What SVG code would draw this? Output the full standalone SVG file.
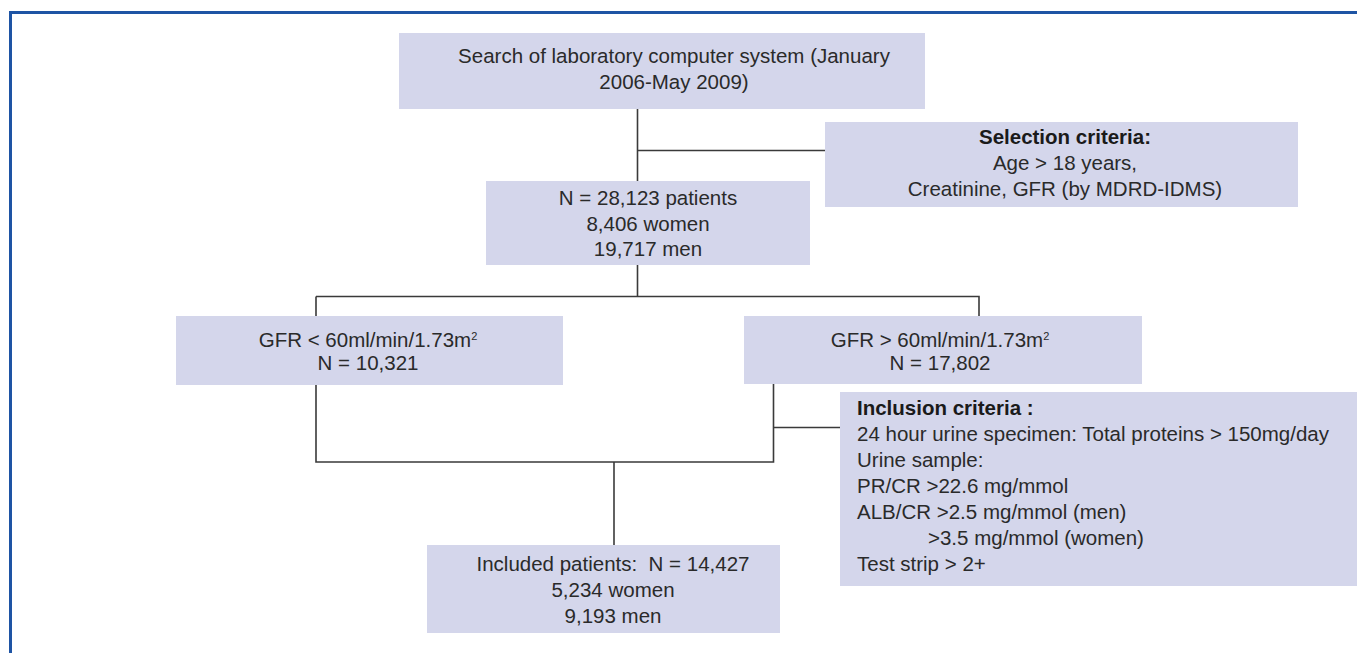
<svg xmlns="http://www.w3.org/2000/svg" width="1357" height="653" viewBox="0 0 1357 653">
<style>
.box{fill:#d4d6eb;}
.t{font-family:"Liberation Sans",Arial,sans-serif;font-size:20.5px;fill:#2a2a2a;}
.c{text-anchor:middle;}
.b{font-weight:bold;fill:#1a1a1a;}
.sup{font-size:11px;}
.ln{stroke:#3a3a3a;stroke-width:1.6;fill:none;}
.frame{stroke:#1e54a4;stroke-width:3;fill:none;}
</style>
<rect x="0" y="0" width="1357" height="653" fill="#ffffff"/>
<path class="frame" d="M10.5,653 V12.5 H1357"/>
<g id="connectors">
<path class="ln" d="M637.5,109 V181"/>
<path class="ln" d="M637.5,150.5 H825"/>
<path class="ln" d="M637.5,265 V296.5"/>
<path class="ln" d="M316,296.5 H979 V316"/>
<path class="ln" d="M316,296.5 V462 H773.5 V384"/>
<path class="ln" d="M773.5,427.5 H840"/>
<path class="ln" d="M614,462 V545"/>
</g>
<g id="node-search">
<rect class="box" x="399" y="33" width="526" height="76"/>
<text class="t c" x="674" y="63">Search of laboratory computer system (January</text>
<text class="t c" x="674" y="89">2006-May 2009)</text>
</g>
<g id="node-selection">
<rect class="box" x="825" y="122" width="473" height="85"/>
<text class="t c b" x="1065" y="144">Selection criteria:</text>
<text class="t c" x="1065" y="170">Age &gt; 18 years,</text>
<text class="t c" x="1065" y="196">Creatinine, GFR (by MDRD-IDMS)</text>
</g>
<g id="node-total">
<rect class="box" x="486" y="181" width="324" height="84"/>
<text class="t c" x="648" y="205">N = 28,123 patients</text>
<text class="t c" x="648" y="230.5">8,406 women</text>
<text class="t c" x="648" y="256">19,717 men</text>
</g>
<g id="node-gfr-low">
<rect class="box" x="176" y="316" width="387" height="69"/>
<text class="t c" x="368" y="347">GFR &lt; 60ml/min/1.73m<tspan class="sup" dy="-7">2</tspan></text>
<text class="t c" x="368" y="370">N = 10,321</text>
</g>
<g id="node-gfr-high">
<rect class="box" x="744" y="316" width="398" height="68"/>
<text class="t c" x="940" y="347">GFR &gt; 60ml/min/1.73m<tspan class="sup" dy="-7">2</tspan></text>
<text class="t c" x="940" y="370">N = 17,802</text>
</g>
<g id="node-inclusion">
<rect class="box" x="840" y="392" width="517" height="194"/>
<text class="t b" x="857" y="415">Inclusion criteria :</text>
<text class="t" x="857" y="441">24 hour urine specimen: Total proteins &gt; 150mg/day</text>
<text class="t" x="857" y="467">Urine sample:</text>
<text class="t" x="857" y="493">PR/CR &gt;22.6 mg/mmol</text>
<text class="t" x="857" y="519">ALB/CR &gt;2.5 mg/mmol (men)</text>
<text class="t" x="928" y="545">&gt;3.5 mg/mmol (women)</text>
<text class="t" x="857" y="571">Test strip &gt; 2+</text>
</g>
<g id="node-included">
<rect class="box" x="427" y="545" width="353" height="88"/>
<text class="t c" x="613" y="571" xml:space="preserve">Included patients:  N = 14,427</text>
<text class="t c" x="613" y="597">5,234 women</text>
<text class="t c" x="613" y="623">9,193 men</text>
</g>
</svg>
